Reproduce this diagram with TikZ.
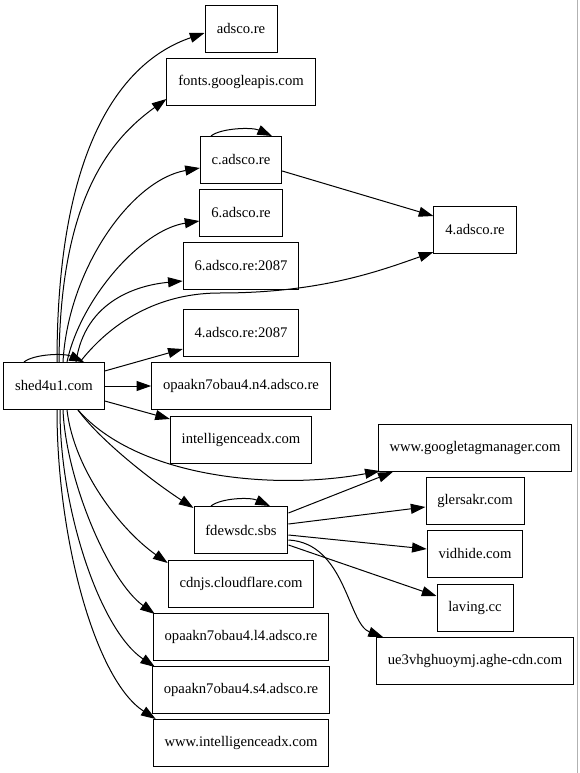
\documentclass[tikz,border=0pt]{standalone}
\usepackage{fontspec}
\setmainfont{Liberation Serif}
\usetikzlibrary{positioning, arrows.meta, calc}

\begin{document}
\begin{tikzpicture}[x=0.75pt, y=-0.75pt, font=\fontsize{11}{13}\selectfont,
    host/.style={draw, line width=0.75pt, minimum height=35.25pt, minimum width=54pt, inner xsep=8.5pt, inner ysep=0pt},
    link/.style={-{Triangle[length=11pt, width=7.5pt]}, line width=0.75pt}]
    \useasboundingbox (0,0) rectangle (579,773);
    \draw[gray!60] (577,0) -- (577,773);
    % hosts: origin page, first column, second column
    \node[host] (shed) at (54,386) {shed4u1.com};
    \foreach \n/\y/\t in {adsco/29/adsco.re, fonts/82/fonts.googleapis.com, cadsco/160/c.adsco.re,
        six/213/6.adsco.re, sixport/266/6.adsco.re:2087, fourport/333/4.adsco.re:2087,
        nfour/386/opaakn7obau4.n4.adsco.re, intel/440/intelligenceadx.com, fdew/530/fdewsdc.sbs,
        cdnjs/584/cdnjs.cloudflare.com, lfour/637/opaakn7obau4.l4.adsco.re,
        sfour/690/opaakn7obau4.s4.adsco.re, wintel/743/www.intelligenceadx.com}
      \node[host] (\n) at (241,\y) {\t};
    \foreach \n/\y/\t in {four/230/4.adsco.re, gtm/448/www.googletagmanager.com, glers/501/glersakr.com,
        vid/554/vidhide.com, laving/608/laving.cc, ue3/661/ue3vhghuoymj.aghe-cdn.com}
      \node[host] (\n) at (475,\y) {\t};
    % self loops
    \foreach \n/\e in {shed/30, cadsco/31, fdew/29}
      \draw[link] ($(\n.north)+(-30,0)$) .. controls +(10,-8) and +(-20,-9) .. ($(\n.north)+(\e,0)$);
    % shed4u1.com upwards
    \draw[link] ($(shed.north)+(3,0)$) .. controls +(0,-212) and +(-85,29) .. ($(adsco.west)+(0,4)$);
    \draw[link] ($(shed.north)+(5,0)$) .. controls +(1,-162) and +(-57,41) .. ($(fonts.west)+(0,17)$);
    \draw[link] ($(shed.north)+(9,0)$) .. controls +(5,-92) and +(-69,12) .. ($(cadsco.west)+(0,8)$);
    \draw[link] ($(shed.north)+(13,0)$) .. controls +(13,-62) and +(-59,9) .. ($(six.west)+(0,8)$);
    \draw[link] ($(shed.north)+(22,0)$) .. controls +(9,-62) and +(-44,4) .. ($(sixport.west)+(0,15)$);
    \draw[link] ($(shed.north)+(26,0)$) .. controls +(25,-32) and +(-70,0) .. (220,293)
      .. controls +(100,0) and +(-54,19) .. ($(four.west)+(0,22)$);
    % shed4u1.com sideways
    \draw[link] ($(shed.east)+(0,-15)$) -- ($(fourport.west)+(0,16)$);
    \draw[link] (shed.east) -- (nfour.west);
    \draw[link] ($(shed.east)+(0,15)$) -- ($(intel.west)+(0,-21)$);
    % shed4u1.com downwards
    \draw[link] ($(shed.south)+(24,0)$) .. controls +(62,70) and +(-100,19) .. ($(gtm.south west)+(2,-1)$);
    \draw[link] ($(shed.south)+(24,0)$) .. controls +(22,30) and +(-43,-28) .. ($(fdew.west)+(0,-22)$);
    \draw[link] ($(shed.south)+(13,0)$) .. controls +(7,60) and +(-47,-33) .. ($(cdnjs.west)+(0,-21)$);
    \draw[link] ($(shed.south)+(9,0)$) .. controls +(3,70) and +(-46,-33) .. ($(lfour.west)+(2,-23)$);
    \draw[link] ($(shed.south)+(6,0)$) .. controls +(0,100) and +(-55,-37) .. ($(sfour.west)+(3,-23)$);
    \draw[link] ($(shed.south)+(3,0)$) .. controls +(0,130) and +(-60,-39) .. ($(wintel.west)+(3,-24)$);
    % second column
    \draw[link] ($(cadsco.east)+(0,11)$) -- ($(four.west)+(0,-14)$);
    \draw[link] ($(fdew.east)+(0,-17)$) -- ($(gtm.south west)+(15,0)$);
    \draw[link] ($(fdew.east)+(0,-6)$) -- ($(glers.west)+(0,6)$);
    \draw[link] ($(fdew.east)+(0,5)$) -- ($(vid.west)+(0,-5)$);
    \draw[link] ($(fdew.east)+(0,15)$) -- ($(laving.west)+(0,-12)$);
    \draw[link] ($(fdew.east)+(0,10)$) .. controls +(57,3) and +(-35,-13) .. ($(ue3.north west)+(7,0)$);
  \end{tikzpicture}
\end{document}
